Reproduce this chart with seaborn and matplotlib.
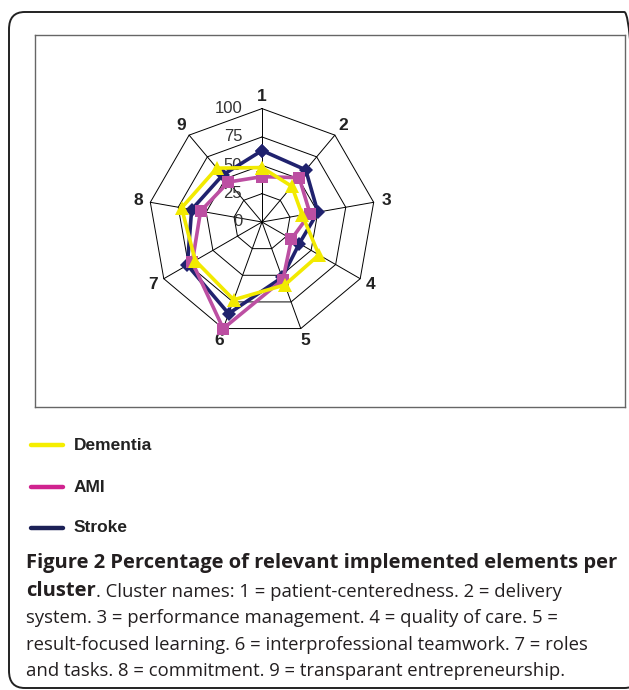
import numpy as np
import pandas as pd
import matplotlib.pyplot as plt
import seaborn as sns
from matplotlib.lines import Line2D
from matplotlib.patches import FancyBboxPatch

# 数据：各 cluster 已实施要素的百分比
clusters = ["1", "2", "3", "4", "5", "6", "7", "8", "9"]
dementia = [48, 41, 36, 58, 59, 73, 68, 72, 62]
ami = [40, 51, 43, 30, 54, 100, 71, 55, 46]
stroke = [63, 60, 50, 38, 52, 86, 76, 63, 54]
series_names = ["Dementia", "AMI", "Stroke"]
ticks = [0, 25, 50, 75, 100]

colors = {"Dementia": "#F2EA00", "AMI": "#BC4FA2", "Stroke": "#20226E"}
legend_colors = {"Dementia": "#F5EE00", "AMI": "#D0238F", "Stroke": "#1C2157"}
markers = {"Dementia": "^", "AMI": "s", "Stroke": "D"}
msizes = {"Dementia": 9.5, "AMI": 8, "Stroke": 7}

W, H = 629, 690


def fx(px):
    return px / W


def fy(py):
    return 1 - py / H


sns.set_style("white")
plt.rcParams["font.family"] = ["Liberation Sans", "DejaVu Sans"]

fig = plt.figure(figsize=(W / 100, H / 100), dpi=100)

# 外框（圆角）
fig.add_artist(FancyBboxPatch((fx(9), fy(688)), fx(640) - fx(9), fy(12) - fy(688),
                              boxstyle="round,pad=0,rounding_size=0.025",
                              transform=fig.transFigure, fill=False,
                              edgecolor="#222222", lw=1.4, clip_on=False))

# 内框 = 雷达图坐标轴
x0, y0, x1, y1 = 35, 35, 625, 407
ax = fig.add_axes([fx(x0), fy(y1), fx(x1) - fx(x0), fy(y0) - fy(y1)])
scale = 1.134  # 每单位数据对应的像素
cx, cy = 262, 222
ax.set_xlim(-(cx - x0) / scale, (x1 - cx) / scale)
ax.set_ylim(-(y1 - cy) / scale, (cy - y0) / scale)
ax.set_xticks([])
ax.set_yticks([])
for s in ax.spines.values():
    s.set_color("#666666")
    s.set_linewidth(1.0)

n = len(clusters)
theta = np.arange(n) * 2 * np.pi / n
closed = np.append(theta, theta[0])

# 网格：多边形 + 辐条
for lv in ticks[1:]:
    ax.plot(lv * np.sin(closed), lv * np.cos(closed), color="black", lw=0.7, zorder=1)
for t in theta:
    ax.plot([0, 100 * np.sin(t)], [0, 100 * np.cos(t)], color="black", lw=0.7, zorder=1)

for lv in ticks:
    ax.text(-17.5, lv, str(lv), ha="right", va="center", fontsize=12, color="#333333")
for t, lab in zip(theta, clusters):
    ax.text(111 * np.sin(t), 111 * np.cos(t), lab, ha="center", va="center",
            fontsize=12.5, fontweight="bold", color="#222222")

vals = {"Dementia": dementia, "AMI": ami, "Stroke": stroke}
rows = []
for name in series_names:
    v = np.append(vals[name], vals[name][0])
    for i, (t, r) in enumerate(zip(closed, v)):
        rows.append(dict(series=name, order=i, x=r * np.sin(t), y=r * np.cos(t)))
df = pd.DataFrame(rows)

# Excel 的绘制顺序：Stroke 在最下，Dementia 在最上
for name in ["Stroke", "AMI", "Dementia"]:
    sub = df[df["series"] == name]
    sns.lineplot(data=sub, x="x", y="y", sort=False, estimator=None, ax=ax,
                 color=colors[name], lw=2.6, marker=markers[name],
                 markersize=msizes[name], markeredgewidth=0, zorder=3)
ax.set_xlabel("")
ax.set_ylabel("")

# 图例（在内框下方）
for name, py in zip(series_names, [445, 487, 528]):
    fig.add_artist(Line2D([fx(31), fx(63)], [fy(py), fy(py)], color=legend_colors[name],
                          lw=3.2, transform=fig.transFigure))
    fig.text(fx(74), fy(py), name, fontsize=12.5, fontweight="bold", va="center",
             color="#222222")

# 图注：粗体标题字号略大，正文略小（原图正文字体较窄）
cap_font = ["Open Sans", "DejaVu Sans"]
bold_size = 14.5
reg_size = 13.3
cap_color = "#231F20"
lx = fx(26)
fig.text(lx, fy(563), "Figure 2 Percentage of relevant implemented elements per",
         fontsize=bold_size, fontweight="bold", family=cap_font, va="center", color=cap_color)
t_bold = fig.text(lx, fy(591), "cluster", fontsize=bold_size, fontweight="bold",
                  family=cap_font, va="baseline", color=cap_color)
fig.texts.append(plt.Annotation(". Cluster names: 1 = patient-centeredness. 2 = delivery",
                                xy=(1, 0), xycoords=t_bold, va="bottom", ha="left",
                                fontsize=reg_size, family=cap_font, color=cap_color))
fig.texts[-1].set_figure(fig)
t_bold.set_va("center")
rest = ["system. 3 = performance management. 4 = quality of care. 5 =",
        "result-focused learning. 6 = interprofessional teamwork. 7 = roles",
        "and tasks. 8 = commitment. 9 = transparant entrepreneurship."]
for line, py in zip(rest, [618, 645, 671]):
    fig.text(lx, fy(py), line, fontsize=reg_size, family=cap_font, va="center", color=cap_color)

fig.savefig("out.png", dpi=100)
